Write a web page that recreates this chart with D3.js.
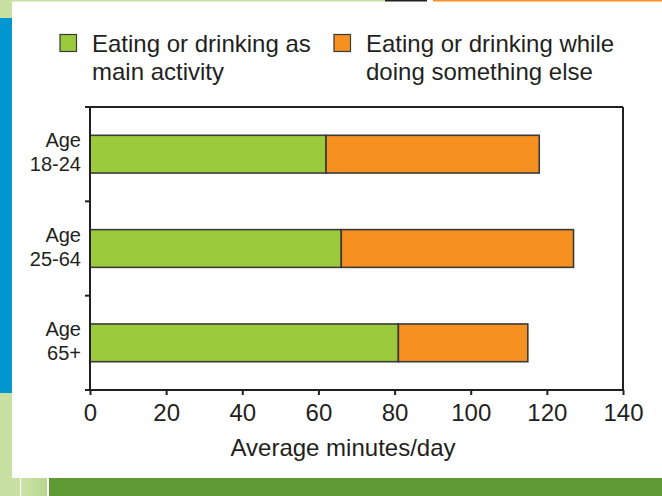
<!DOCTYPE html>
<html>
<head>
<meta charset="utf-8">
<script src="https://cdn.jsdelivr.net/npm/d3@7"></script>
<style>
  html, body { margin: 0; padding: 0; background: #fff; }
  svg { display: block; }
  text { font-family: "Liberation Sans", Arial, Helvetica, sans-serif; fill: #231f20; }
</style>
</head>
<body>
<svg id="chart" width="662" height="496"></svg>
<script>
// Age groups and average minutes per day spent eating or drinking
const categories = ["18-24", "25-64", "65+"];
const mainActivity = [62, 66, 81];
const secondaryActivity = [56, 61, 34];
const seriesNames = ["Eating or drinking as\nmain activity", "Eating or drinking while\ndoing something else"];
const xTicks = [0, 20, 40, 60, 80, 100, 120, 140];
const xTitle = "Average minutes/day";

const colors = ["#9bcb3c", "#f69020"];
const ink = "#231f20";

const svg = d3.select("#chart");

// Page frame decoration
const deco = svg.append("g");
deco.append("rect").attr("x", 0).attr("y", 0).attr("width", 385).attr("height", 1.5).attr("fill", "#c8e1a3");
deco.append("rect").attr("x", 385).attr("y", 0).attr("width", 42).attr("height", 1.5).attr("fill", "#231f20");
deco.append("rect").attr("x", 433).attr("y", 0).attr("width", 229).attr("height", 1.5).attr("fill", "#f69020");
deco.append("rect").attr("x", 0).attr("y", 0).attr("width", 12).attr("height", 18).attr("fill", "#c8e1a3");
deco.append("rect").attr("x", 0).attr("y", 18).attr("width", 12).attr("height", 375).attr("fill", "#0096d1");
deco.append("rect").attr("x", 0).attr("y", 393).attr("width", 12).attr("height", 103).attr("fill", "#c8e1a3");
deco.append("rect").attr("x", 0).attr("y", 478).attr("width", 20).attr("height", 18).attr("fill", "#c8e1a3");
const grad = svg.append("defs").append("linearGradient").attr("id", "fade");
grad.append("stop").attr("offset", "0").attr("stop-color", "#cbe3a8");
grad.append("stop").attr("offset", "1").attr("stop-color", "#b7d68e");
deco.append("rect").attr("x", 21).attr("y", 478).attr("width", 26).attr("height", 18).attr("fill", "url(#fade)");
deco.append("rect").attr("x", 49).attr("y", 478).attr("width", 613).attr("height", 18).attr("fill", "#5f9934");

// Scales
const x = d3.scaleLinear().domain([0, 140]).range([90, 623]);
const y = d3.scaleBand().domain(categories).range([107, 390]).paddingInner(0.6).paddingOuter(0.3);

// Stacked bars
const rows = categories.map((c, i) => ({ cat: c, vals: [mainActivity[i], secondaryActivity[i]] }));
const segs = [];
rows.forEach(r => {
  let acc = 0;
  r.vals.forEach((v, k) => { segs.push({ cat: r.cat, x0: acc, x1: acc + v, k }); acc += v; });
});
svg.append("g").selectAll("rect").data(segs).join("rect")
  .attr("x", d => x(d.x0))
  .attr("y", d => y(d.cat))
  .attr("width", d => x(d.x1) - x(d.x0))
  .attr("height", y.bandwidth())
  .attr("fill", d => colors[d.k])
  .attr("stroke", "#3a3a3a")
  .attr("stroke-width", 1.6);

// Plot frame
const frame = svg.append("g").attr("stroke", ink).attr("stroke-width", 2).attr("fill", "none");
frame.append("line").attr("x1", 90).attr("x2", 623).attr("y1", 107).attr("y2", 107);
frame.append("line").attr("x1", 623).attr("x2", 623).attr("y1", 107).attr("y2", 390);
frame.append("line").attr("x1", 90).attr("x2", 90).attr("y1", 106).attr("y2", 391);

// Category separator ticks on the left axis
const step = y.step();
const yTickPos = d3.range(categories.length + 1).map(i => 107 + i * (283 / categories.length));
frame.selectAll("line.yt").data(yTickPos).join("line").attr("class", "yt")
  .attr("x1", 85).attr("x2", 90).attr("y1", d => d).attr("y2", d => d);

// X axis
const xAxis = d3.axisBottom(x).tickValues(xTicks).tickSize(5).tickPadding(9).tickSizeOuter(0);
const gx = svg.append("g").attr("transform", "translate(0,390)").call(xAxis);
gx.select(".domain").attr("stroke", ink).attr("stroke-width", 2).attr("d", "M85,0H623");
gx.selectAll(".tick line").attr("stroke", ink).attr("stroke-width", 2);
gx.selectAll(".tick text").attr("font-size", 24).attr("font-family", "Liberation Sans, Arial, sans-serif").attr("fill", ink);

svg.append("text").attr("x", 343).attr("y", 456).attr("text-anchor", "middle").attr("font-size", 24).text(xTitle);

// Category labels
const lab = svg.append("g").attr("font-size", 20).attr("text-anchor", "end");
categories.forEach(c => {
  const cy = y(c) + y.bandwidth() / 2;
  lab.append("text").attr("x", 81).attr("y", cy - 7).text("Age");
  lab.append("text").attr("x", 81).attr("y", cy + 17).text(c);
});

// Legend
const legendX = [60, 334];
const leg = svg.append("g");
seriesNames.forEach((name, k) => {
  leg.append("rect").attr("x", legendX[k]).attr("y", 34.5).attr("width", 16.5).attr("height", 17)
    .attr("fill", colors[k]).attr("stroke", "#3a3a3a").attr("stroke-width", 1.2);
  const t = leg.append("text").attr("x", legendX[k] + 32).attr("y", 52).attr("font-size", 24);
  name.split("\n").forEach((line, j) => {
    t.append("tspan").attr("x", legendX[k] + 32).attr("dy", j === 0 ? 0 : 28).text(line);
  });
});
</script>
</body>
</html>
